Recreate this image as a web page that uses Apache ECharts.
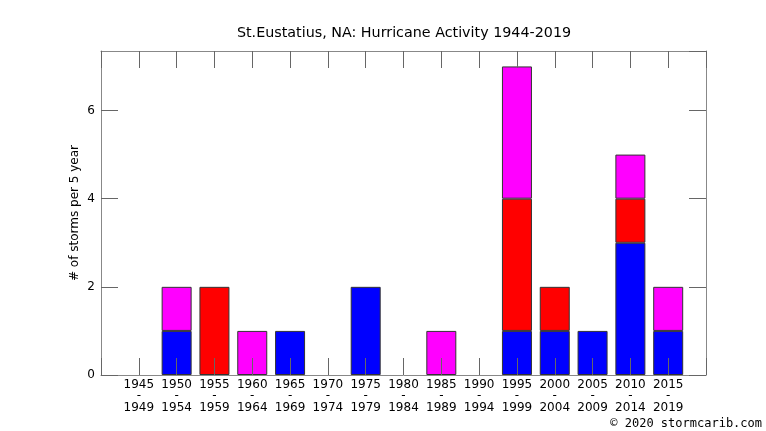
<!DOCTYPE html>
<html>
<head>
<meta charset="utf-8">
<script src="https://cdn.jsdelivr.net/npm/echarts@6/dist/echarts.min.js"></script>
<style>
  html, body { margin: 0; padding: 0; background: #fff; }
  #chart { width: 766px; height: 431px; }
</style>
</head>
<body>
<div id="chart"></div>
<script>
// 5-year periods, storms per period split by intensity class
const periodStart = [1945, 1950, 1955, 1960, 1965, 1970, 1975, 1980, 1985, 1990, 1995, 2000, 2005, 2010, 2015];
const periodEnd   = [1949, 1954, 1959, 1964, 1969, 1974, 1979, 1984, 1989, 1994, 1999, 2004, 2009, 2014, 2019];
const blueCounts    = [0, 1, 0, 0, 1, 0, 2, 0, 0, 0, 1, 1, 1, 3, 1];
const redCounts     = [0, 0, 2, 0, 0, 0, 0, 0, 0, 0, 3, 1, 0, 1, 0];
const magentaCounts = [0, 1, 0, 1, 0, 0, 0, 0, 1, 0, 3, 0, 0, 1, 1];
const yTicks = [0, 2, 4, 6];

// one empty slot on each side so the frame sits a full period past the ends
const categories = [''].concat(periodStart.map((s, i) => s + '\n-\n' + periodEnd[i]), ['']);
const pad = (arr) => ['-'].concat(arr.map(v => v === 0 ? '-' : v), ['-']);

const frameColor = '#888';
const tickColor = '#666';
const font = 'DejaVu Sans';

function barSeries(name, color, values) {
    return {
        name: name,
        type: 'bar',
        stack: 'total',
        barWidth: 30,
        data: pad(values),
        itemStyle: { color: color, borderColor: '#333', borderWidth: 1 },
        emphasis: { disabled: true }
    };
}

const xCommon = {
    type: 'category',
    data: categories,
    boundaryGap: false,
    z: 5,
    axisLine: { show: true, onZero: false, lineStyle: { color: frameColor } },
    axisTick: { show: true, inside: true, length: 17, interval: 0, lineStyle: { color: tickColor } },
    splitLine: { show: false }
};

const yCommon = {
    type: 'value',
    min: 0,
    max: 7.35,
    interval: 2,
    z: 5,
    axisLine: { show: true, onZero: false, lineStyle: { color: frameColor } },
    axisTick: { show: true, inside: true, length: 17, lineStyle: { color: tickColor } },
    splitLine: { show: false }
};

const option = {
    animation: false,
    title: {
        text: 'St.Eustatius, NA: Hurricane Activity 1944-2019',
        left: 399,
        textAlign: 'center',
        top: 21,
        textStyle: { fontFamily: font, fontSize: 14.3, fontWeight: 'normal', color: '#000' }
    },
    graphic: [{
        type: 'text',
        right: 4,
        top: 418,
        style: { text: '\u00a9 2020 stormcarib.com', font: '12px "DejaVu Sans Mono"', fill: '#000' }
    }],
    grid: { left: 101, right: 60, top: 51, bottom: 56 },
    xAxis: [
        Object.assign({}, xCommon, {
            position: 'bottom',
            axisLabel: {
                interval: 0,
                margin: 4,
                fontFamily: font,
                fontSize: 12,
                lineHeight: 11.5,
                color: '#000'
            }
        }),
        Object.assign({}, xCommon, {
            position: 'top',
            axisLabel: { show: false }
        })
    ],
    yAxis: [
        Object.assign({}, yCommon, {
            position: 'left',
            name: '# of storms per 5 year',
            nameLocation: 'middle',
            nameGap: 20,
            nameMoveOverlap: false,
            nameTextStyle: { fontFamily: font, fontSize: 12, color: '#000' },
            axisLabel: {
                margin: 6,
                fontFamily: font,
                fontSize: 12,
                color: '#000',
                showMaxLabel: false,
                formatter: (v) => yTicks.indexOf(v) >= 0 ? String(v) : ''
            }
        }),
        Object.assign({}, yCommon, {
            position: 'right',
            axisLabel: { show: false }
        })
    ],
    series: [
        barSeries('blue', '#0000ff', blueCounts),
        barSeries('red', '#ff0000', redCounts),
        barSeries('magenta', '#ff00ff', magentaCounts)
    ]
};

const chart = echarts.init(document.getElementById('chart'));
chart.setOption(option);
</script>
</body>
</html>
